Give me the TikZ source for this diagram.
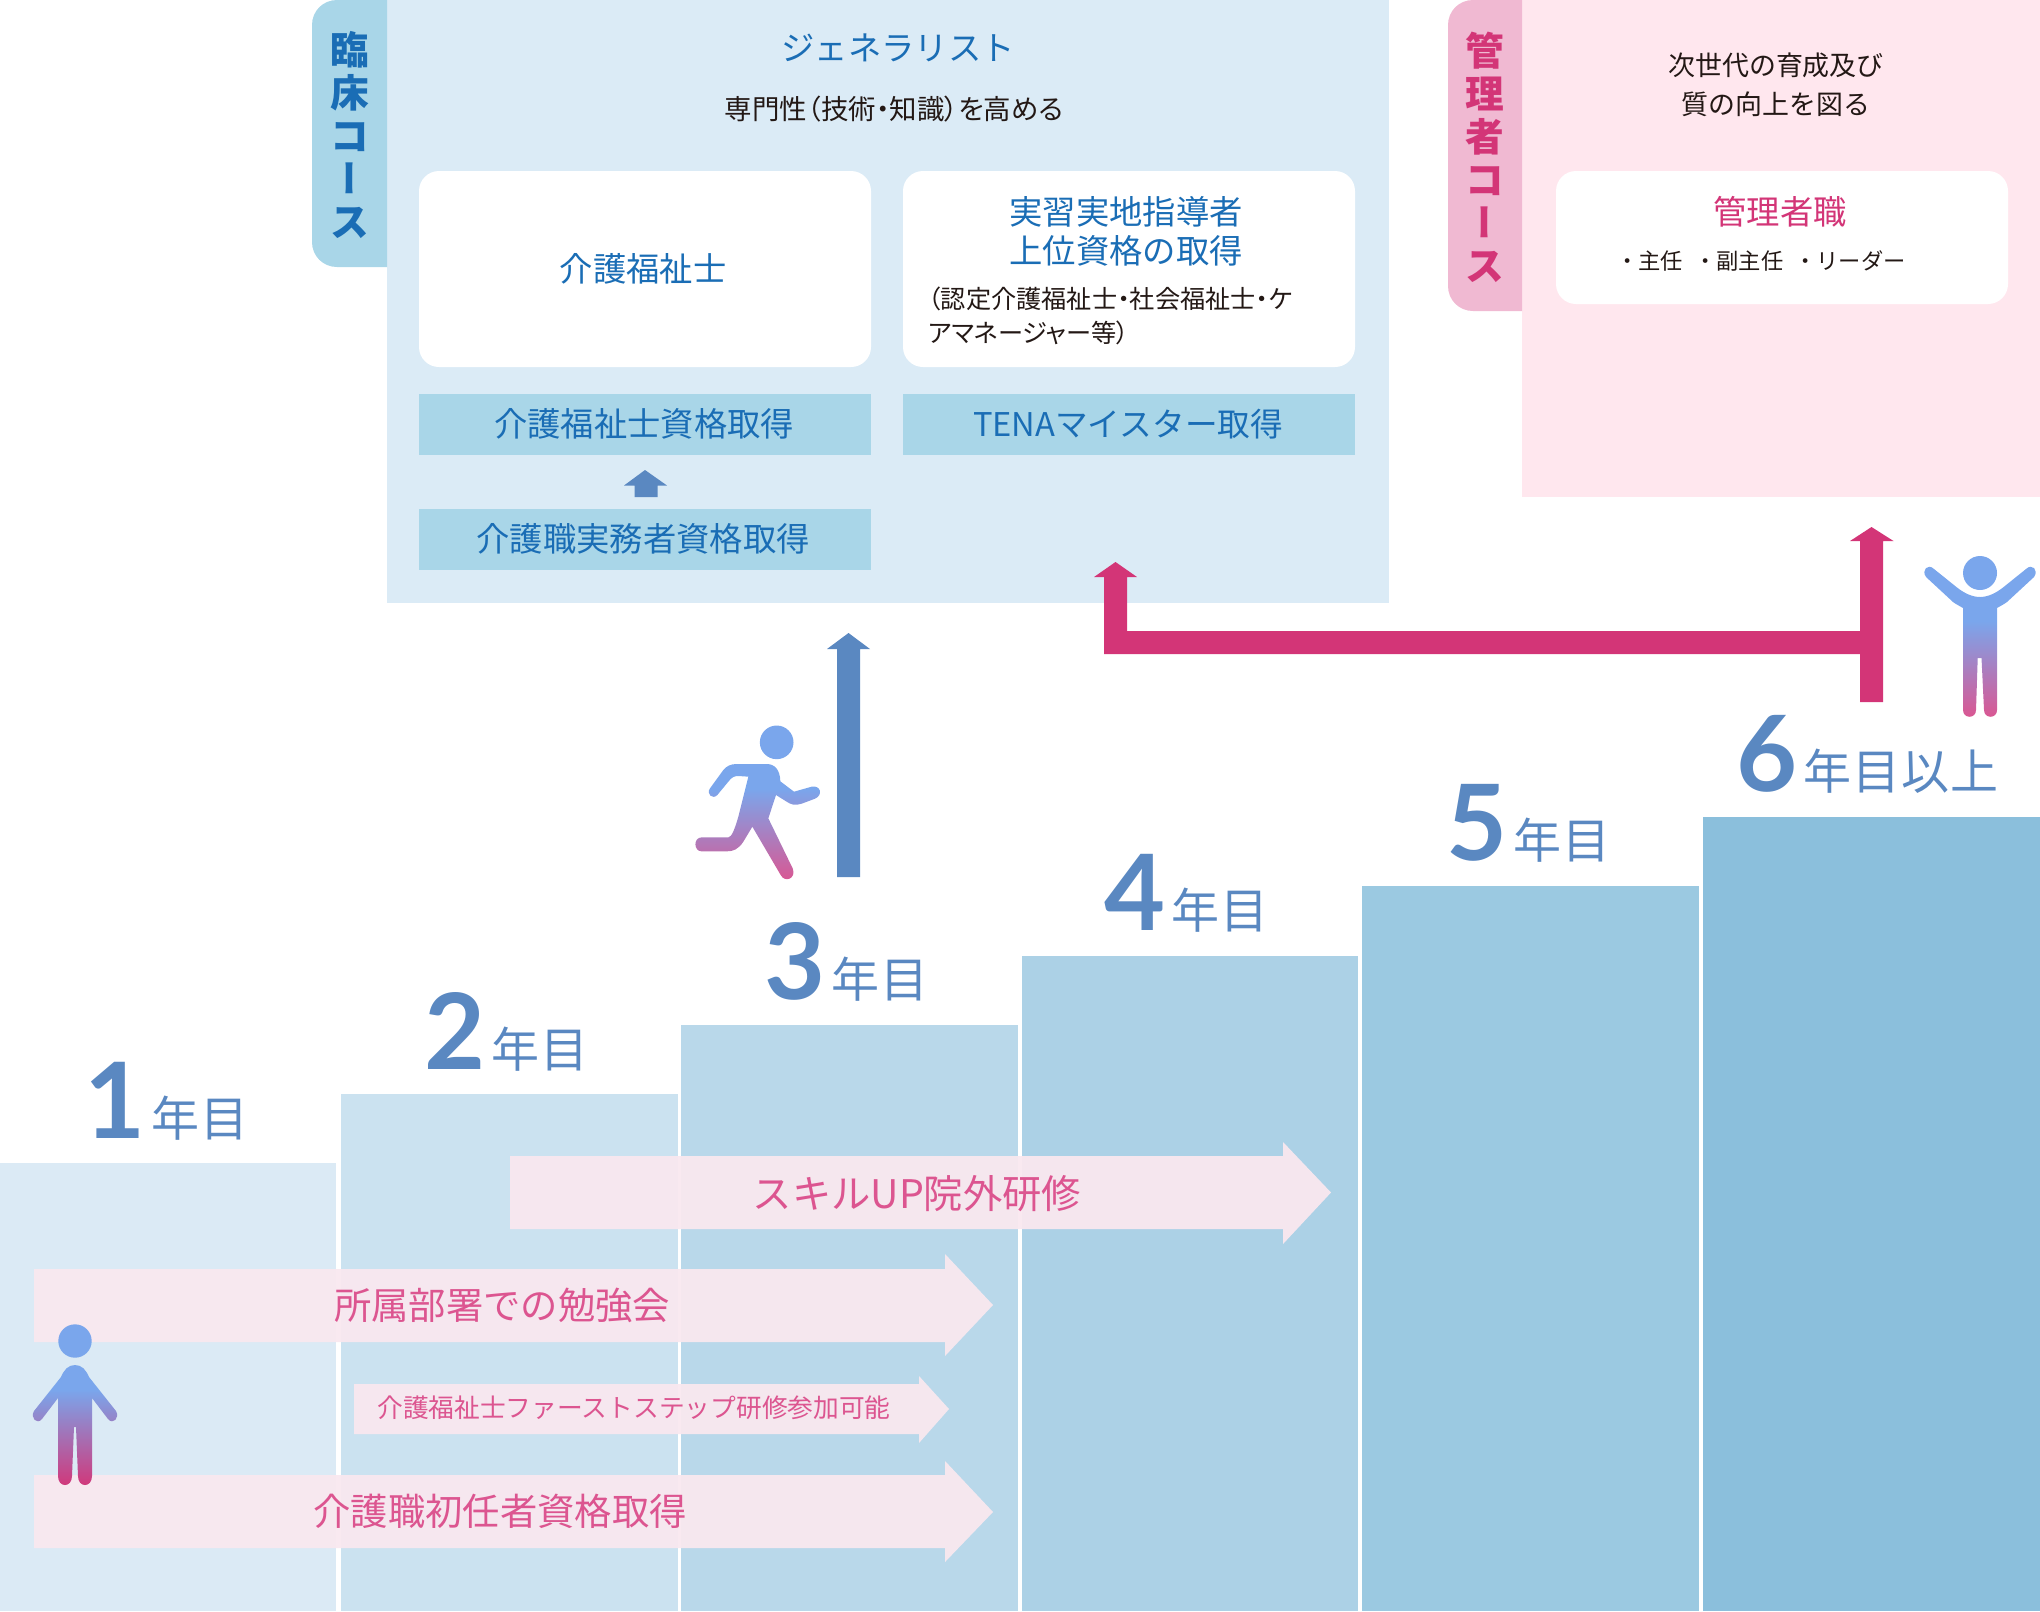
\documentclass[tikz,border=0pt]{standalone}
\usepackage{fontspec}
\setmainfont{Noto Sans CJK JP}
\newfontfamily\vertfont[RawFeature=+vert]{Noto Sans CJK JP}
\newfontfamily\paltfont[RawFeature=+palt]{Noto Sans CJK JP}
\newfontfamily\digitfont[BoldFont=Lato Bold]{Lato}
\definecolor{panelblue}{HTML}{DBEBF6}
\definecolor{tabblue}{HTML}{A9D6E8}
\definecolor{textblue}{HTML}{1A6DB5}
\definecolor{panelpink}{HTML}{FFE7EE}
\definecolor{tabpink}{HTML}{F0B9D2}
\definecolor{deeppink}{HTML}{D33577}
\definecolor{softpink}{HTML}{DC5590}
\definecolor{bandpink}{HTML}{F9E8EF}
\definecolor{arrowblue}{HTML}{5A88C1}
\definecolor{inkblack}{HTML}{231815}
\definecolor{figblue}{HTML}{7AA6EC}
\definecolor{stepa}{HTML}{DBEAF5}
\definecolor{stepb}{HTML}{CBE2F0}
\definecolor{stepc}{HTML}{B9D8EA}
\definecolor{stepd}{HTML}{ACD1E6}
\definecolor{stepe}{HTML}{9BC9E1}
\definecolor{stepf}{HTML}{8BBFDC}
\pgfdeclareverticalshading{figsoft}{100bp}{color(0bp)=(softpink); color(25bp)=(softpink); color(55bp)=(figblue); color(100bp)=(figblue)}
\pgfdeclareverticalshading{figdeep}{100bp}{color(0bp)=(deeppink); color(25bp)=(deeppink); color(55bp)=(figblue); color(100bp)=(figblue)}
\newcommand{\yearlabel}[2]{{\fontsize{79pt}{79pt}\selectfont\digitfont\bfseries #1}\hspace{4.5pt}\raisebox{1.5pt}{\fontsize{36pt}{36pt}\selectfont\addfontfeatures{LetterSpace=2.5}#2}}
\tikzset{
  px/.style={x=0.75pt,y=-0.75pt},
  boxnode/.style={inner sep=0pt,outer sep=0pt,align=center,text=textblue,font=\fontsize{25pt}{29.5pt}\selectfont},
  whitebox/.style={boxnode,fill=white,rounded corners=15pt,minimum width=339pt},
  barbox/.style={boxnode,fill=tabblue,minimum width=339pt,minimum height=45.75pt},
  bandfill/.style={fill=bandpink,fill opacity=.95,draw=none},
  bandtext/.style={inner sep=0pt,text=softpink,font=\fontsize{28pt}{32pt}\selectfont},
  blacktext/.style={inner sep=0pt,text=inkblack,align=center},
  tabtext/.style={inner sep=0pt,align=center,font=\fontsize{29pt}{32.25pt}\selectfont\bfseries},
  yeartext/.style={inner sep=0pt,anchor=base west,text=arrowblue},
}
\begin{document}
\begin{tikzpicture}[px]
\useasboundingbox (0,0) rectangle (2040,1611);

% stair steps
\fill[stepa] (0,1163) rectangle (336,1611);
\fill[stepb] (341,1094) rectangle (678,1611);
\fill[stepc] (681,1025) rectangle (1018,1611);
\fill[stepd] (1022,956) rectangle (1358,1611);
\fill[stepe] (1362,886) rectangle (1699,1611);
\fill[stepf] (1703,817) rectangle (2040,1611);

% year labels
\node[yeartext] (y1) at (84,1138) {\yearlabel{1}{年目}};
\node[yeartext] (y2) at (424,1069) {\yearlabel{2}{年目}};
\node[yeartext] (y3) at (764,999) {\yearlabel{3}{年目}};
\node[yeartext] (y4) at (1104,930) {\yearlabel{4}{年目}};
\node[yeartext] (y5) at (1446,860) {\yearlabel{5}{年目}};
\node[yeartext] (y6) at (1736,791) {\yearlabel{6}{年目以上}};

% blue panel
\fill[panelblue] (387,0) rectangle (1389,603);
\fill[tabblue] (387,0) -- (337,0) .. controls (323,0) and (312,11) .. (312,25) -- (312,242) .. controls (312,256) and (323,267) .. (337,267) -- (387,267) -- cycle;
\node[tabtext,text=textblue] (tabL) at (349.5,135) {臨\\床\\コ\\{\vertfont ー}\\ス};
\node[inner sep=0pt,text=textblue,font=\fontsize{25pt}{28pt}\selectfont] (gen) at (898,48) {ジェネラリスト};
\node[blacktext,font=\fontsize{20.6pt}{22pt}\selectfont\paltfont] (gensub) at (894,109) {専門性（技術・知識）を高める};
\node[whitebox,minimum height=147pt] (kaigo) at (645,269) {};
\node[boxnode] (kaigoT) at (643,269) {介護福祉士};
\node[whitebox,minimum height=147pt] (jisshu) at (1129,269) {};
\node[boxnode,font=\fontsize{25pt}{29.5pt}\selectfont] (jisshuT) at (1126,231.5) {実習実地指導者\\上位資格の取得};
\node[blacktext,anchor=north west,align=left,font=\fontsize{18.9pt}{25pt}\selectfont\paltfont] (jisshuS) at (928,287) {（認定介護福祉士・社会福祉士・ケ\\アマネージャー等）};
\node[barbox] (barA) at (645,424.5) {};
\node[boxnode] (barAT) at (644,424) {介護福祉士資格取得};
\node[barbox] (barB) at (1129,424.5) {};
\node[boxnode,font=\fontsize{24.5pt}{29.5pt}\selectfont] (barBT) at (1128,424) {TENAマイスター取得};
\node[barbox] (barC) at (645,539.5) {};
\node[boxnode] (barCT) at (643,539) {介護職実務者資格取得};
% small arrow between bars
\fill[arrowblue] (634.5,497) -- (634.5,485.5) -- (624,485.5) -- (645,470) -- (667,485.5) -- (657.5,485.5) -- (657.5,497) -- cycle;

% pink panel
\fill[panelpink] (1522,0) rectangle (2040,497);
\fill[tabpink] (1522,0) -- (1473,0) .. controls (1459,0) and (1448,11) .. (1448,25) -- (1448,286) .. controls (1448,300) and (1459,311) .. (1473,311) -- (1522,311) -- cycle;
\node[tabtext,text=deeppink] (tabR) at (1485,157) {管\\理\\者\\コ\\{\vertfont ー}\\ス};
\node[blacktext,font=\fontsize{20.2pt}{29.25pt}\selectfont] (next) at (1776,84.5) {次世代の育成及び\\質の向上を図る};
\node[whitebox,minimum height=99.75pt] (kanri) at (1782,237.5) {};
\node[inner sep=0pt,text=deeppink,font=\fontsize{25pt}{28pt}\selectfont] (kanriT) at (1780,212) {管理者職};
\node[blacktext,font=\fontsize{16.7pt}{20pt}\selectfont] (kanriS) at (1761,260.5) {・主任\hspace{.5em}・副主任\hspace{.5em}・リーダー};

% course arrows
\fill[deeppink] (1104,654) -- (1104,577) -- (1094,577) -- (1115.5,562) -- (1137,577) -- (1127,577) -- (1127,631) -- (1860,631) -- (1860,541) -- (1850,541) -- (1871.5,527) -- (1893.5,541) -- (1883,541) -- (1883,702) -- (1860,702) -- (1860,654) -- cycle;
\fill[arrowblue] (837,877) -- (837,649) -- (827,649) -- (848.5,633) -- (870,649) -- (860,649) -- (860,877) -- cycle;

% band arrows
\fill[bandfill] (510,1156) -- (1283,1156) -- (1283,1142) -- (1331,1192.5) -- (1283,1244) -- (1283,1229) -- (510,1229) -- cycle;
\fill[bandfill] (34,1269) -- (945,1269) -- (945,1254) -- (993,1305) -- (945,1356) -- (945,1342) -- (34,1342) -- cycle;
\fill[bandfill] (354,1384) -- (919,1384) -- (919,1376) -- (949,1409) -- (919,1443) -- (919,1434) -- (354,1434) -- cycle;
\fill[bandfill] (34,1475) -- (945,1475) -- (945,1461) -- (993,1512) -- (945,1562) -- (945,1548) -- (34,1548) -- cycle;
\node[bandtext,font=\fontsize{29.5pt}{32pt}\selectfont] (skill) at (917,1194) {スキルUP院外研修};
\node[bandtext] (bukyo) at (502,1305) {所属部署での勉強会};
\node[bandtext,font=\fontsize{19.3pt}{23pt}\selectfont] (first) at (634,1408) {介護福祉士ファーストステップ研修参加可能};
\node[bandtext] (shonin) at (500,1511) {介護職初任者資格取得};

% standing figure
\shade[shading=figdeep] (75,1341) circle[radius=16.7]
  (75,1365) .. controls (82,1365) and (86,1370) .. (89,1377) -- (116,1411) .. controls (120,1418) and (113,1425) .. (108,1419) -- (92,1398) -- (92,1476) .. controls (92,1488) and (78,1488) .. (78,1476) -- (76,1427) -- (74,1427) -- (72,1476) .. controls (72,1488) and (58,1488) .. (58,1476) -- (58,1398) -- (42,1419) .. controls (37,1425) and (30,1418) .. (34,1411) -- (61,1377) .. controls (64,1370) and (68,1365) .. (75,1365) -- cycle;

% running figure
\begin{scope}[shift={(660,620)},x=0.25pt,y=-0.25pt]
\shade[shading=figsoft] (350,367) circle[radius=50.5]
  (230,432) -- (320,432) .. controls (345,432) and (360,450) .. (361,484) -- (402,515) -- (455,500) .. controls (482,495) and (490,525) .. (465,536) -- (425,551) .. controls (405,558) and (392,553) .. (380,545) -- (348,525) -- (325,595) -- (398,745) .. controls (410,775) and (375,790) .. (362,765) -- (277,620) -- (250,665) .. controls (235,688) and (220,694) .. (200,694) -- (125,694) .. controls (100,694) and (100,652) .. (125,652) -- (205,652) .. controls (215,652) and (225,625) .. (235,590) -- (265,470) -- (235,468) .. controls (222,468) and (215,472) .. (205,485) -- (172,525) .. controls (158,540) and (138,522) .. (150,505) -- (190,450) .. controls (200,438) and (212,432) .. (230,432) -- cycle;
\end{scope}

% cheering figure
\shade[shading=figsoft] (1980,573) circle[radius=17]
  (1980,597) .. controls (1972,597) and (1964,593) .. (1957,587.5) -- (1934,569) .. controls (1928,563) and (1921,570) .. (1926,577) -- (1953,602) .. controls (1957,605) and (1960,606) .. (1963,608) -- (1963,710) .. controls (1963,719) and (1976,719) .. (1976,710) -- (1977.7,658) -- (1981.5,658) -- (1984,710) .. controls (1984,719) and (1997,719) .. (1997,710) -- (1997,608) .. controls (2000,606) and (2003,605) .. (2007,602) -- (2034,577) .. controls (2039,570) and (2032,563) .. (2026,569) -- (2003,587.5) .. controls (1996,593) and (1988,597) .. (1980,597) -- cycle;
\end{tikzpicture}
\end{document}
